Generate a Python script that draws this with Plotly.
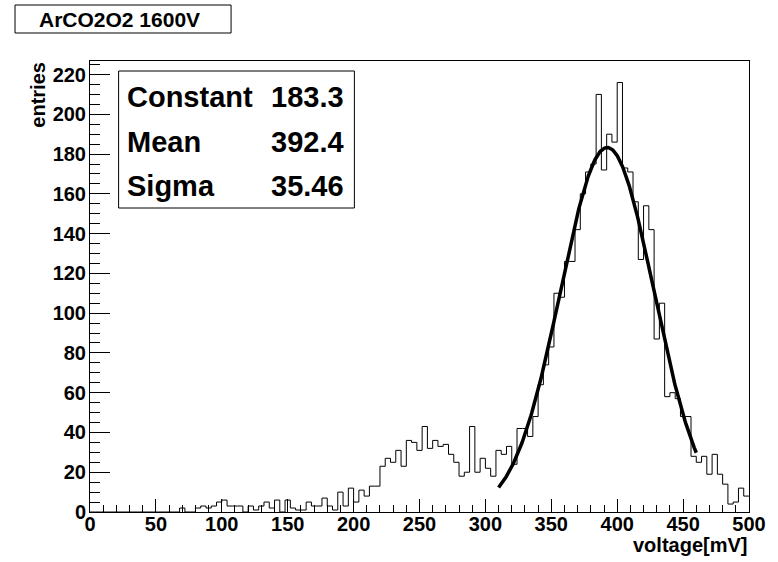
import numpy as np
import plotly.graph_objects as go

# ---- data ----
bin_width = 4  # mV
counts = [
    0, 0, 0, 0, 0, 0, 0, 0, 0, 0,          # 0-36
    0, 0, 0, 0, 0, 0, 0, 2, 0, 0,          # 40-76
    2, 3, 2, 3, 5, 6, 3, 3, 3, 0,          # 80-116
    3, 1, 3, 5, 2, 6, 0, 6, 2, 1,          # 120-156
    1, 5, 3, 3, 7, 3, 1, 10, 3, 12,        # 160-196
    5, 11, 8, 13, 13, 23, 27, 25, 31, 23,  # 200-236
    36, 35, 31, 43, 32, 36, 33, 34, 29, 25,  # 240-276
    18, 20, 43, 20, 27, 22, 18, 31, 29, 33,  # 280-316
    24, 42, 42, 38, 48, 64, 74, 83, 110, 108,  # 320-356
    126, 126, 142, 160, 171, 175, 210, 172, 190, 186,  # 360-396
    216, 173, 171, 156, 127, 154, 142, 87, 105, 58,  # 400-436
    60, 57, 48, 48, 28, 25, 28, 19, 29, 19,  # 440-476
    14, 4, 5, 12, 8,                        # 480-496
]
x_ticks = [0, 50, 100, 150, 200, 250, 300, 350, 400, 450, 500]
y_ticks = [0, 20, 40, 60, 80, 100, 120, 140, 160, 180, 200, 220]
fit_constant = 183.3
fit_mean = 392.4
fit_sigma = 35.46
fit_range = [310, 460]
stat_labels = ["Constant", "Mean", "Sigma"]
stat_values = ["183.3", "392.4", "35.46"]
title_text = "ArCO2O2 1600V"
x_title = "voltage[mV]"
y_title = "entries"

# ---- figure ----
edges = [i * bin_width for i in range(len(counts) + 1)]
hist_y = counts + [counts[-1]]

fx = np.linspace(fit_range[0], fit_range[1], 300)
fy = fit_constant * np.exp(-0.5 * ((fx - fit_mean) / fit_sigma) ** 2)

FONT = "Liberation Sans, Arial, sans-serif"

fig = go.Figure()
fig.add_trace(go.Scatter(x=edges, y=hist_y, mode="lines", line_shape="hv",
                         line=dict(color="black", width=1), hoverinfo="skip",
                         showlegend=False))
fig.add_trace(go.Scatter(x=fx, y=fy, mode="lines",
                         line=dict(color="black", width=3.5), showlegend=False))

W, H = 778, 562
L, R, T, B = 90, 20, 61, 50
pw, ph = W - L - R, H - T - B


def px(x):
    return (x - L) / pw


def py(y):
    return (H - B - y) / ph


ymax = max(counts) * 1.05

axis_common = dict(showgrid=False, zeroline=False, showline=True, linecolor="black",
                   linewidth=1, mirror=True, ticks="inside", tickcolor="black",
                   tickmode="array",
                   tickfont=dict(family=FONT, size=20, color="black"))

fig.update_layout(
    width=W, height=H,
    margin=dict(l=L, r=R, t=T, b=B),
    paper_bgcolor="white", plot_bgcolor="white",
    xaxis=dict(range=[0, 500], tickvals=x_ticks,
               ticktext=["<b>%d</b>" % v for v in x_ticks], ticklen=13,
               ticklabelstandoff=-6,
               minor=dict(dtick=10, tick0=0, ticks="inside", ticklen=7, tickcolor="black"),
               **axis_common),
    yaxis=dict(range=[0, ymax], tickvals=y_ticks,
               ticktext=["<b>%d</b>" % v for v in y_ticks], ticklen=20,
               ticklabelstandoff=-1,
               minor=dict(dtick=5, tick0=0, ticks="inside", ticklen=10, tickcolor="black"),
               **axis_common),
    shapes=[
        dict(type="rect", xref="paper", yref="paper",
             x0=px(14), x1=px(233), y0=py(33), y1=py(5),
             line=dict(color="black", width=1), fillcolor="white"),
        dict(type="rect", xref="paper", yref="paper",
             x0=px(119), x1=px(358), y0=py(208), y1=py(71),
             line=dict(color="black", width=1), fillcolor="white"),
    ],
)

ann = []
ann.append(dict(text="<b>%s</b>" % title_text, xref="paper", yref="paper",
                x=px(120), y=py(19), xanchor="center", yanchor="middle",
                showarrow=False, font=dict(family=FONT, size=21, color="black")))
rows_y = [97, 142, 186]
for lab, val, yy in zip(stat_labels, stat_values, rows_y):
    ann.append(dict(text="<b>%s</b>" % lab, xref="paper", yref="paper",
                    x=px(125), y=py(yy), xanchor="left", yanchor="middle",
                    showarrow=False, font=dict(family=FONT, size=29, color="black")))
    ann.append(dict(text="<b>%s</b>" % val, xref="paper", yref="paper",
                    x=px(350), y=py(yy), xanchor="right", yanchor="middle",
                    showarrow=False, font=dict(family=FONT, size=29, color="black")))
ann.append(dict(text="<b>%s</b>" % x_title, xref="paper", yref="paper",
                x=1.0, y=py(545), xanchor="right", yanchor="middle",
                showarrow=False, font=dict(family=FONT, size=20, color="black")))
ann.append(dict(text="<b>%s</b>" % y_title, xref="paper", yref="paper",
                x=px(37), y=py(95), xanchor="center", yanchor="middle", textangle=-90,
                showarrow=False, font=dict(family=FONT, size=20, color="black")))
fig.update_layout(annotations=ann)

fig.write_html("out.html")
